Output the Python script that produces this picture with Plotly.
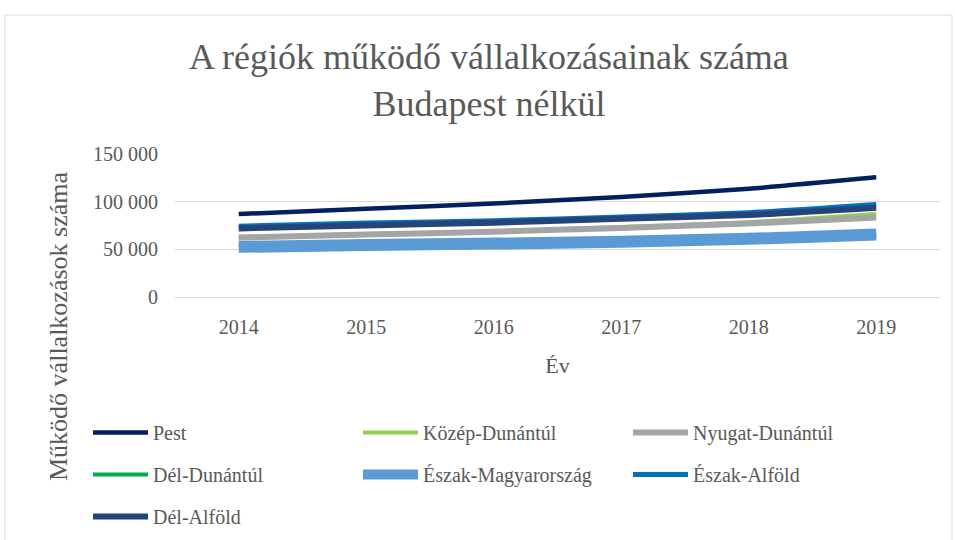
import plotly.graph_objects as go

years = ["2014", "2015", "2016", "2017", "2018", "2019"]
series_names = ["Pest", "Közép-Dunántúl", "Nyugat-Dunántúl", "Dél-Dunántúl",
                "Észak-Magyarország", "Észak-Alföld", "Dél-Alföld"]
pest = [87000, 92500, 98000, 105000, 113500, 125500]
kozep_dunantul = [62500, 66000, 69000, 73500, 78500, 87000]
nyugat_dunantul = [62400, 65500, 68500, 72500, 77000, 83500]
del_dunantul = [53000, 55000, 56500, 58500, 61000, 65000]
eszak_magyarorszag = [52600, 54500, 56000, 58000, 61000, 65600]
eszak_alfold = [74300, 77500, 80000, 84000, 88500, 97100]
del_alfold = [71900, 75000, 78000, 82000, 86000, 93600]

values = [pest, kozep_dunantul, nyugat_dunantul, del_dunantul,
          eszak_magyarorszag, eszak_alfold, del_alfold]
colors = ["#002060", "#92D050", "#A5A5A5", "#00B050", "#5B9BD5", "#0070C0", "#264478"]
widths = [4.5, 4, 6, 4, 12, 5, 6]
legend_rows = ["legend", "legend", "legend", "legend2", "legend2", "legend2", "legend3"]

TXT = "#595959"
FONT = "Liberation Serif"

fig = go.Figure()
for name, vals, c, w, lg in zip(series_names, values, colors, widths, legend_rows):
    fig.add_trace(go.Scatter(x=years, y=vals, name=name, mode="lines", legend=lg,
                             line=dict(color=c, width=w, shape="spline", smoothing=0.6)))

L, R, T, B = 175, 15, 154, 243
pw = 955 - L - R
ph = 540 - T - B

def px_x(x):
    return (x - L) / pw

def px_y(y):
    return (540 - B - y) / ph

def leg(ytop):
    return dict(orientation="h", x=px_x(88), xanchor="left", y=px_y(ytop), yanchor="top",
                entrywidth=200, entrywidthmode="pixels", itemwidth=55,
                font=dict(size=20, color=TXT), bgcolor="rgba(0,0,0,0)",
                traceorder="normal")

fig.update_layout(
    width=955, height=540,
    margin=dict(l=L, r=R, t=T, b=B, autoexpand=False),
    paper_bgcolor="white", plot_bgcolor="white",
    font=dict(family=FONT, color=TXT, size=20),
    title=dict(text="A régiók működő vállalkozásainak száma<br>Budapest nélkül",
               x=0.512, xanchor="center", y=0.872, yanchor="middle",
               font=dict(family=FONT, size=36, color=TXT)),
    xaxis=dict(type="category", range=[-0.5, 5.5], showgrid=False, showline=False, ticks="",
               automargin=False, ticklabelstandoff=16,
               tickfont=dict(size=20, color=TXT),
               title=dict(text="Év", font=dict(size=22, color=TXT), standoff=20)),
    yaxis=dict(range=[0, 150000], tickvals=[0, 50000, 100000, 150000],
               ticktext=["0", "50 000", "100 000", "150 000"],
               showgrid=True, gridcolor="#D9D9D9", gridwidth=1,
               zeroline=True, zerolinecolor="#D9D9D9", zerolinewidth=1,
               showline=False, ticks="", ticklabelstandoff=16, automargin=False,
               tickfont=dict(size=20, color=TXT)),
    annotations=[dict(text="Működő vállalkozások száma", textangle=-90,
                      xref="paper", yref="paper", x=px_x(58), y=px_y(326),
                      xanchor="center", yanchor="middle", showarrow=False,
                      font=dict(family=FONT, size=26, color=TXT))],
    legend=leg(413),
    legend2=leg(455),
    legend3=leg(497),
    shapes=[dict(type="rect", xref="paper", yref="paper",
                 x0=px_x(5), x1=px_x(952), y0=px_y(545), y1=px_y(15),
                 line=dict(color="#D9D9D9", width=1), fillcolor="rgba(0,0,0,0)", layer="below")],
    showlegend=True,
)

post = (
    "var h=document.documentElement,b=document.body;"
    "h.style.margin='0';h.style.padding='0';h.style.overflow='hidden';h.style.height='540px';"
    "b.style.margin='0';b.style.padding='0';b.style.overflow='hidden';b.style.height='540px';"
)
fig.write_html("out.html", config={"displayModeBar": False}, post_script=post)
